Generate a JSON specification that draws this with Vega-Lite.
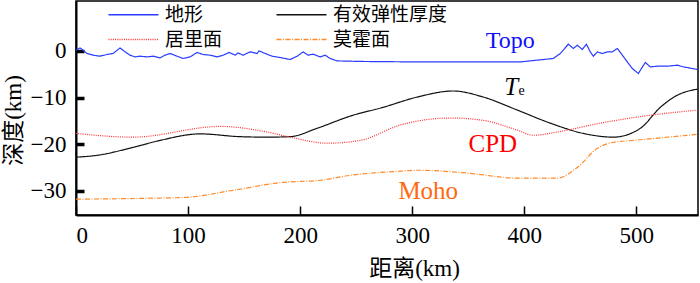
{
  "$schema": "https://vega.github.io/schema/vega-lite/v6.json",
  "autosize": {"type": "none"},
  "width": 622,
  "height": 214,
  "padding": {"left": 76, "top": 1, "right": 2, "bottom": 68},
  "background": "white",
  "config": {
    "view": {"stroke": "black", "strokeWidth": 1.5},
    "font": "Liberation Serif",
    "style": {"guide-label": {"font": "Liberation Serif"}},
    "axis": {"grid": false, "domainColor": "black", "domainWidth": 2, "tickColor": "black", "labelColor": "black", "titleColor": "black", "labelFont": "Liberation Serif", "labelFontSize": 23, "titleFont": "Liberation Serif, Noto Sans CJK SC", "titleFontSize": 23, "titleFontWeight": "normal"}
  },
  "datasets": {
    "curves": [
      {"d": 0, "v": 0.15, "s": "地形"}, {"d": 3.6, "v": 0.64, "s": "地形"}, {"d": 6.3, "v": 0.15, "s": "地形"}, {"d": 9.8, "v": -0.56, "s": "地形"}, {"d": 15.2, "v": -0.92, "s": "地形"}, {"d": 21.4, "v": -1.14, "s": "地形"}, {"d": 27.7, "v": -0.77, "s": "地形"}, {"d": 33.0, "v": -0.56, "s": "地形"}, {"d": 39.3, "v": 0.64, "s": "地形"}, {"d": 43.8, "v": -0.21, "s": "地形"}, {"d": 48.2, "v": -0.92, "s": "地形"}, {"d": 52.7, "v": -1.29, "s": "地形"}, {"d": 57.1, "v": -1.14, "s": "地形"}, {"d": 63.4, "v": -1.29, "s": "地形"}, {"d": 68.8, "v": -1.14, "s": "地形"}, {"d": 75.0, "v": -1.5, "s": "地形"}, {"d": 79.5, "v": -0.92, "s": "地形"}, {"d": 83.9, "v": -0.56, "s": "地形"}, {"d": 90.2, "v": -1.14, "s": "地形"}, {"d": 95.5, "v": -1.63, "s": "地形"}, {"d": 101.8, "v": -1.29, "s": "地形"}, {"d": 108.0, "v": -0.34, "s": "地形"}, {"d": 113.4, "v": -0.77, "s": "地形"}, {"d": 119.6, "v": -0.92, "s": "地形"}, {"d": 125.9, "v": -1.29, "s": "地形"}, {"d": 131.3, "v": -0.92, "s": "地形"}, {"d": 136.6, "v": -0.34, "s": "地形"}, {"d": 142.0, "v": -0.92, "s": "地形"}, {"d": 144.6, "v": -0.43, "s": "地形"}, {"d": 149.1, "v": -0.92, "s": "地形"}, {"d": 155.4, "v": -0.21, "s": "地形"}, {"d": 161.6, "v": -0.56, "s": "地形"}, {"d": 163.4, "v": 0.0, "s": "地形"}, {"d": 168.8, "v": -0.56, "s": "地形"}, {"d": 175.0, "v": -1.14, "s": "地形"}, {"d": 182.1, "v": -1.42, "s": "地形"}, {"d": 191.1, "v": -1.85, "s": "地形"}, {"d": 197.3, "v": -1.14, "s": "地形"}, {"d": 202.7, "v": -0.21, "s": "地形"}, {"d": 207.1, "v": -0.92, "s": "地形"}, {"d": 211.6, "v": -0.71, "s": "地形"}, {"d": 217.9, "v": -1.29, "s": "地形"}, {"d": 222.3, "v": -0.92, "s": "地形"}, {"d": 226.8, "v": -1.63, "s": "地形"}, {"d": 233.0, "v": -2.15, "s": "地形"}, {"d": 256.3, "v": -2.27, "s": "地形"}, {"d": 300.9, "v": -2.36, "s": "地形"}, {"d": 345.5, "v": -2.36, "s": "地形"}, {"d": 396.4, "v": -2.36, "s": "地形"}, {"d": 425.9, "v": -1.63, "s": "地形"}, {"d": 432.1, "v": -0.56, "s": "地形"}, {"d": 439.3, "v": 1.44, "s": "地形"}, {"d": 443.8, "v": 0.52, "s": "地形"}, {"d": 447.3, "v": 1.22, "s": "地形"}, {"d": 451.8, "v": 0.3, "s": "地形"}, {"d": 455.4, "v": 1.44, "s": "地形"}, {"d": 458.9, "v": -0.21, "s": "地形"}, {"d": 461.6, "v": -1.14, "s": "地形"}, {"d": 465.2, "v": -0.21, "s": "地形"}, {"d": 469.6, "v": -0.56, "s": "地形"}, {"d": 474.1, "v": -0.21, "s": "地形"}, {"d": 478.6, "v": -0.21, "s": "地形"}, {"d": 483.0, "v": 0.52, "s": "地形"}, {"d": 487.5, "v": -0.92, "s": "地形"}, {"d": 491.9, "v": -2.36, "s": "地形"}, {"d": 496.4, "v": -3.78, "s": "地形"}, {"d": 501.8, "v": -4.85, "s": "地形"}, {"d": 505.4, "v": -3.43, "s": "地形"}, {"d": 508.0, "v": -2.49, "s": "地形"}, {"d": 512.5, "v": -3.43, "s": "地形"}, {"d": 518.8, "v": -3.28, "s": "地形"}, {"d": 527.7, "v": -3.28, "s": "地形"}, {"d": 536.6, "v": -3.07, "s": "地形"}, {"d": 542.0, "v": -3.43, "s": "地形"}, {"d": 554.5, "v": -3.99, "s": "地形"},
      {"d": 0, "v": -22.8, "s": "有效弹性厚度"}, {"d": 18.8, "v": -22.4, "s": "有效弹性厚度"}, {"d": 50.9, "v": -20.7, "s": "有效弹性厚度"}, {"d": 75, "v": -19.2, "s": "有效弹性厚度"}, {"d": 110.7, "v": -17.8, "s": "有效弹性厚度"}, {"d": 146.4, "v": -18.4, "s": "有效弹性厚度"}, {"d": 170.5, "v": -18.5, "s": "有效弹性厚度"}, {"d": 191, "v": -18.4, "s": "有效弹性厚度"}, {"d": 215.2, "v": -16.6, "s": "有效弹性厚度"}, {"d": 244.6, "v": -14.0, "s": "有效弹性厚度"}, {"d": 274.1, "v": -12.1, "s": "有效弹性厚度"}, {"d": 304.5, "v": -9.9, "s": "有效弹性厚度"}, {"d": 336.6, "v": -8.6, "s": "有效弹性厚度"}, {"d": 363.4, "v": -9.9, "s": "有效弹性厚度"}, {"d": 393.8, "v": -12.7, "s": "有效弹性厚度"}, {"d": 423.2, "v": -15.5, "s": "有效弹性厚度"}, {"d": 452.7, "v": -17.7, "s": "有效弹性厚度"}, {"d": 479.5, "v": -18.5, "s": "有效弹性厚度"}, {"d": 503.6, "v": -16.6, "s": "有效弹性厚度"}, {"d": 521.4, "v": -12.1, "s": "有效弹性厚度"}, {"d": 536.6, "v": -9.5, "s": "有效弹性厚度"}, {"d": 554.5, "v": -8.2, "s": "有效弹性厚度"},
      {"d": 0, "v": -17.7, "s": "居里面"}, {"d": 50.9, "v": -18.5, "s": "居里面"}, {"d": 128.6, "v": -16.2, "s": "居里面"}, {"d": 170.5, "v": -17.4, "s": "居里面"}, {"d": 191, "v": -18.5, "s": "居里面"}, {"d": 224.1, "v": -19.8, "s": "居里面"}, {"d": 253.6, "v": -19.2, "s": "居里面"}, {"d": 289.3, "v": -15.9, "s": "居里面"}, {"d": 333.9, "v": -14.4, "s": "居里面"}, {"d": 363.4, "v": -14.9, "s": "居里面"}, {"d": 393.8, "v": -17.0, "s": "居里面"}, {"d": 408, "v": -18.1, "s": "居里面"}, {"d": 429.5, "v": -17.4, "s": "居里面"}, {"d": 467.9, "v": -15.5, "s": "居里面"}, {"d": 512.5, "v": -13.8, "s": "居里面"}, {"d": 554.5, "v": -12.7, "s": "居里面"},
      {"d": 0, "v": -31.8, "s": "莫霍面"}, {"d": 66, "v": -31.6, "s": "莫霍面"}, {"d": 99, "v": -31.4, "s": "莫霍面"}, {"d": 140, "v": -29.9, "s": "莫霍面"}, {"d": 184.8, "v": -28.2, "s": "莫霍面"}, {"d": 217.9, "v": -27.75, "s": "莫霍面"}, {"d": 244.6, "v": -26.7, "s": "莫霍面"}, {"d": 289.3, "v": -25.8, "s": "莫霍面"}, {"d": 304.5, "v": -25.6, "s": "莫霍面"}, {"d": 349.1, "v": -26.2, "s": "莫霍面"}, {"d": 393.8, "v": -27.3, "s": "莫霍面"}, {"d": 429.5, "v": -27.3, "s": "莫霍面"}, {"d": 447.3, "v": -25.0, "s": "莫霍面"}, {"d": 465.2, "v": -20.9, "s": "莫霍面"}, {"d": 479.5, "v": -19.6, "s": "莫霍面"}, {"d": 497.3, "v": -19.2, "s": "莫霍面"}, {"d": 554.5, "v": -17.9, "s": "莫霍面"}
    ],
    "topo": [{"d": 387.5, "v": 0.58, "t": "Topo"}],
    "te": [{"d": 388.4, "v": -9.5, "t": "T"}],
    "tesub": [{"d": 397.5, "v": -9.5, "t": "e"}],
    "cpd": [{"d": 371.9, "v": -21.7, "t": "CPD"}],
    "moho": [{"d": 314.3, "v": -31.7, "t": "Moho"}]
  },
  "encoding": {
    "x": {"field": "d", "type": "quantitative", "scale": {"domain": [0, 555], "nice": false, "zero": false},
      "axis": {"title": "距离(km)", "values": [0, 100, 200, 300, 400, 500], "tickSize": -9, "tickWidth": 1.5, "labelPadding": 18, "labelFont": "Liberation Serif", "titleX": 338, "titleY": 53, "titleBaseline": "middle", "titleAlign": "center"}},
    "y": {"field": "v", "type": "quantitative", "scale": {"domain": [-35.2, 10.7], "nice": false, "zero": false},
      "axis": {"title": "深度(km)", "values": [0, -10, -20, -30], "tickSize": -8, "tickWidth": 3.5, "labelPadding": 18, "labelFont": "Liberation Serif", "titleX": -63, "titleY": 119, "titleBaseline": "middle", "titleAlign": "center"}}
  },
  "layer": [
    {
      "data": {"name": "curves"},
      "transform": [{"filter": "datum.s === '地形'"}],
      "mark": {"type": "line", "strokeWidth": 1.2, "interpolate": "linear"},
      "encoding": {
        "color": {"field": "s", "type": "nominal", "scale": {"domain": ["地形", "居里面", "有效弹性厚度", "莫霍面"], "range": ["#2a3cff", "#ff3030", "#111111", "#ff8a2a"]},
          "legend": {"title": null, "orient": "none", "legendX": 48, "legendY": 4, "columns": 2, "columnPadding": 50, "rowPadding": 5, "symbolType": "M-5,0H5", "symbolSize": 100, "symbolStrokeWidth": 1.3, "labelFont": "Noto Sans CJK SC", "labelFontSize": 19, "labelOffset": 22, "labelColor": "black", "padding": 0}},
        "strokeDash": {"field": "s", "type": "nominal", "scale": {"domain": ["地形", "居里面", "有效弹性厚度", "莫霍面"], "range": [[1, 0], [1, 1.2], [1, 0], [5, 1.5, 1, 1.5]]}, "legend": {"title": null, "orient": "none", "legendX": 48, "legendY": 4, "columns": 2, "columnPadding": 50, "rowPadding": 5, "symbolType": "M-5,0H5", "symbolSize": 100, "symbolStrokeWidth": 1.3, "labelFont": "Noto Sans CJK SC", "labelFontSize": 19, "labelOffset": 22, "labelColor": "black", "padding": 0}}
      }
    },
    {
      "data": {"name": "curves"},
      "transform": [{"filter": "datum.s !== '地形'"}],
      "mark": {"type": "line", "strokeWidth": 1.2, "interpolate": "monotone"},
      "encoding": {
        "color": {"field": "s", "type": "nominal"},
        "strokeDash": {"field": "s", "type": "nominal"}
      }
    },
    {"data": {"name": "topo"}, "mark": {"type": "text", "font": "Liberation Serif", "fontSize": 24, "color": "#1010ff", "baseline": "alphabetic", "align": "center"}, "encoding": {"text": {"field": "t"}}},
    {"data": {"name": "te"}, "mark": {"type": "text", "font": "Liberation Serif", "fontSize": 25, "fontStyle": "italic", "color": "black", "baseline": "alphabetic", "align": "center"}, "encoding": {"text": {"field": "t"}}},
    {"data": {"name": "tesub"}, "mark": {"type": "text", "font": "Liberation Serif", "fontSize": 14, "color": "black", "baseline": "alphabetic", "align": "center"}, "encoding": {"text": {"field": "t"}}},
    {"data": {"name": "cpd"}, "mark": {"type": "text", "font": "Liberation Serif", "fontSize": 25, "color": "#ff0000", "baseline": "alphabetic", "align": "center"}, "encoding": {"text": {"field": "t"}}},
    {"data": {"name": "moho"}, "mark": {"type": "text", "font": "Liberation Serif", "fontSize": 25, "color": "#ff6a10", "baseline": "alphabetic", "align": "center"}, "encoding": {"text": {"field": "t"}}}
  ]
}
